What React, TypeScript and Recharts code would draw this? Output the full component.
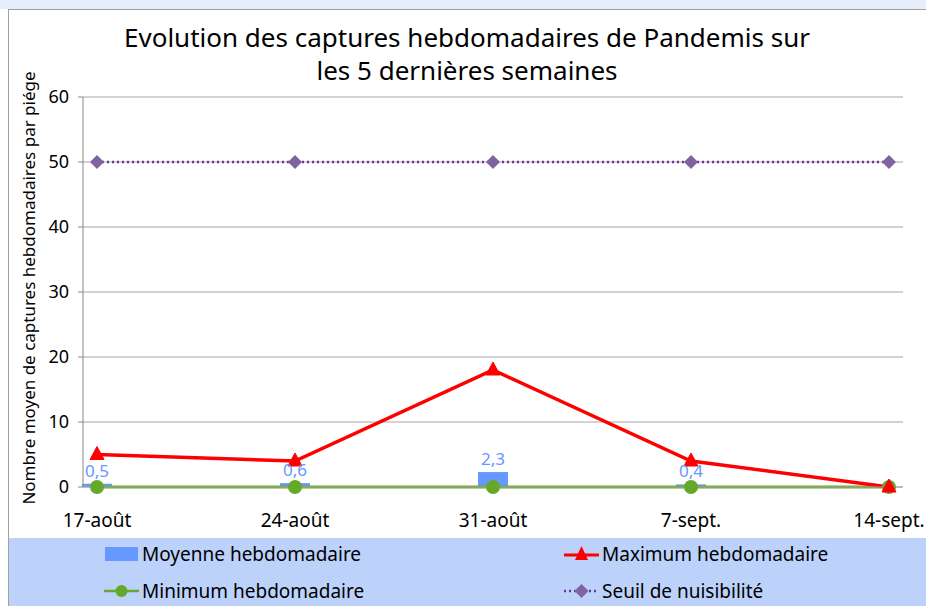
import {
  Bar,
  CartesianGrid,
  ComposedChart,
  LabelList,
  Line,
  XAxis,
  YAxis,
} from 'recharts';

// Weekly Pandemis captures, last 5 weeks
const weeks = ['17-août', '24-août', '31-août', '7-sept.', '14-sept.'];
const moyenne = [0.5, 0.6, 2.3, 0.4, 0.0];
const maximum = [5, 4, 18, 4, 0];
const minimum = [0, 0, 0, 0, 0];
const seuil = [50, 50, 50, 50, 50];
const yTicks = [0, 10, 20, 30, 40, 50, 60];

const FONT = '"Noto Sans", "Open Sans", sans-serif';
const BLUE = '#6699ff';
const RED = '#ff0000';
const GREEN = '#66a82a';
const PURPLE = '#7030a0';
const DIAMOND = '#8064a2';

const data = weeks.map((w, i) => ({
  x: i,
  week: w,
  moyenne: moyenne[i],
  maximum: maximum[i],
  minimum: minimum[i],
  seuil: seuil[i],
}));

function Triangle(props: any) {
  const { cx, cy } = props;
  if (cx == null || cy == null) return null;
  return (
    <path
      d={`M${cx},${cy - 8} L${cx + 7},${cy + 5} L${cx - 7},${cy + 5} Z`}
      fill={RED}
      stroke={RED}
    />
  );
}

function Diamond(props: any) {
  const { cx, cy } = props;
  if (cx == null || cy == null) return null;
  return (
    <path
      d={`M${cx},${cy - 7} L${cx + 7},${cy} L${cx},${cy + 7} L${cx - 7},${cy} Z`}
      fill={DIAMOND}
    />
  );
}

function Dot(props: any) {
  const { cx, cy } = props;
  if (cx == null || cy == null) return null;
  return <circle cx={cx} cy={cy} r={7} fill={GREEN} />;
}

const fmt = (v: number) => v.toFixed(1).replace('.', ',');

function LegendItem({ kind, label }: { kind: string; label: string }) {
  let icon = null;
  if (kind === 'bar') icon = <rect x={1} y={2} width={33} height={14} fill={BLUE} />;
  if (kind === 'max')
    icon = (
      <g>
        <line x1={0} y1={10} x2={35} y2={10} stroke={RED} strokeWidth={3} />
        <path d="M17.5,1 L24,15 L11,15 Z" fill={RED} />
      </g>
    );
  if (kind === 'min')
    icon = (
      <g>
        <line x1={0} y1={9} x2={35} y2={9} stroke={GREEN} strokeWidth={2.5} />
        <circle cx={17.5} cy={9} r={6} fill={GREEN} />
      </g>
    );
  if (kind === 'seuil')
    icon = (
      <g>
        <line x1={0} y1={9} x2={35} y2={9} stroke={PURPLE} strokeWidth={2.5} strokeDasharray="2 3" />
        <path d="M17.5,2 L24.5,9 L17.5,16 L10.5,9 Z" fill={DIAMOND} />
      </g>
    );
  return (
    <div style={{ display: 'flex', alignItems: 'center' }}>
      <svg width={36} height={18} style={{ marginRight: 2 }}>
        {icon}
      </svg>
      <span>{label}</span>
    </div>
  );
}

export default function App() {
  return (
    <div
      style={{
        position: 'absolute',
        left: 0,
        top: 0,
        width: 926,
        height: 606,
        background: '#ffffff',
        fontFamily: FONT,
        overflow: 'hidden',
      }}
    >
      <div style={{ position: 'absolute', left: 0, top: 0, width: 926, height: 9, background: '#e6eefb' }} />
      <div
        style={{
          position: 'absolute',
          left: 8,
          top: 9,
          width: 930,
          height: 610,
          borderLeft: '1.5px solid #a0a0a0',
          borderTop: '1.5px solid #a0a0a0',
        }}
      />
      <div
        style={{
          position: 'absolute',
          left: 0,
          top: 21,
          width: 934,
          textAlign: 'center',
          fontSize: 26,
          lineHeight: '33px',
          color: '#000',
        }}
      >
        Evolution des captures hebdomadaires de Pandemis sur
        <br />
        les 5 dernières semaines
      </div>
      <div
        style={{
          position: 'absolute',
          left: 28,
          top: 288,
          transform: 'translate(-50%, -50%) rotate(-90deg)',
          whiteSpace: 'nowrap',
          fontSize: 17,
          color: '#000',
        }}
      >
        Nombre moyen de captures hebdomadaires par piége
      </div>
      <div style={{ position: 'absolute', left: 0, top: 0 }}>
        <ComposedChart
          width={926}
          height={538}
          data={data}
          margin={{ top: 97, right: 23, bottom: 0, left: 0 }}
        >
          <CartesianGrid vertical={false} stroke="#a6a6a6" strokeWidth={1} />
          <XAxis
            type="number"
            dataKey="x"
            domain={[0, 4]}
            ticks={[0, 1, 2, 3, 4]}
            tickFormatter={(i: number) => weeks[i]}
            padding={{ left: 14, right: 14 }}
            axisLine={{ stroke: '#a6a6a6' }}
            tickLine={false}
            tickMargin={21}
            height={51}
            interval={0}
            tick={{ fill: '#000', fontSize: 19, fontFamily: FONT }}
          />
          <YAxis
            domain={[0, 60]}
            ticks={yTicks}
            width={83}
            axisLine={{ stroke: '#888888' }}
            tickLine={{ stroke: '#888888' }}
            tickSize={5}
            tickMargin={9}
            tick={{ fill: '#000', fontSize: 18, fontFamily: FONT }}
          />
          <Bar dataKey="moyenne" fill={BLUE} barSize={30} isAnimationActive={false}>
            <LabelList
              dataKey="moyenne"
              position="top"
              offset={7}
              formatter={(v: any) => fmt(Number(v))}
              style={{ fill: BLUE, fontSize: 17, fontFamily: FONT }}
            />
          </Bar>
          <Line
            dataKey="minimum"
            stroke={GREEN}
            strokeWidth={3}
            dot={<Dot />}
            activeDot={false}
            isAnimationActive={false}
          />
          <Line
            dataKey="maximum"
            stroke={RED}
            strokeWidth={3.5}
            dot={<Triangle />}
            activeDot={false}
            isAnimationActive={false}
          />
          <Line
            dataKey="seuil"
            stroke={PURPLE}
            strokeWidth={2.5}
            strokeDasharray="2 3"
            dot={<Diamond />}
            activeDot={false}
            isAnimationActive={false}
          />
        </ComposedChart>
      </div>
      <div
        style={{
          position: 'absolute',
          left: 9,
          top: 538,
          width: 917,
          height: 68,
          background: '#bcd2fb',
          fontSize: 19,
          color: '#000',
        }}
      >
        <div style={{ position: 'absolute', left: 95, top: 3 }}>
          <LegendItem kind="bar" label="Moyenne hebdomadaire" />
        </div>
        <div style={{ position: 'absolute', left: 555, top: 3 }}>
          <LegendItem kind="max" label="Maximum hebdomadaire" />
        </div>
        <div style={{ position: 'absolute', left: 95, top: 40 }}>
          <LegendItem kind="min" label="Minimum hebdomadaire" />
        </div>
        <div style={{ position: 'absolute', left: 555, top: 40 }}>
          <LegendItem kind="seuil" label="Seuil de nuisibilité" />
        </div>
      </div>
    </div>
  );
}
